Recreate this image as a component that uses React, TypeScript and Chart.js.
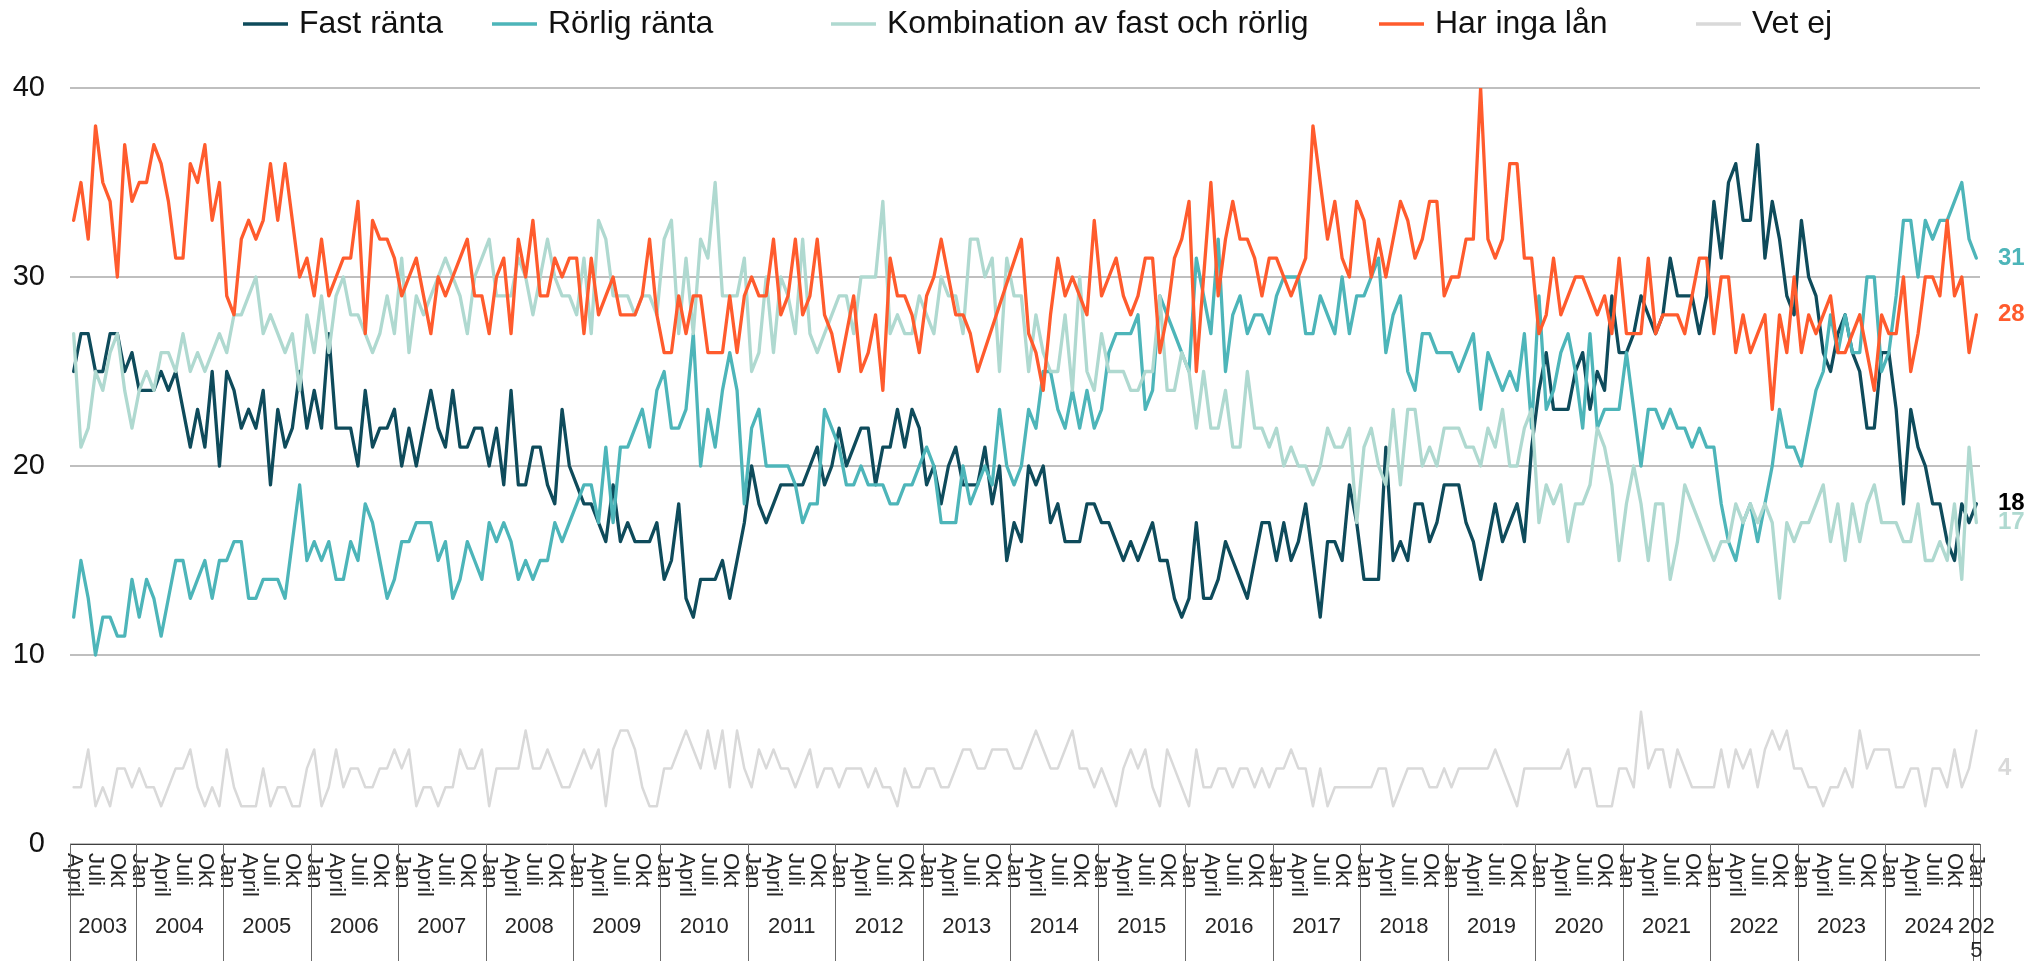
import React, { useEffect, useRef } from 'react';
import { Chart, registerables } from 'chart.js';

Chart.register(...registerables);

const FONT = '"Liberation Sans", Arial, Helvetica, sans-serif';

// ---------- categories (monthly, April 2003 – Jan 2025) ----------
const MONTH_NAMES = ['Jan', 'Feb', 'Mars', 'April', 'Maj', 'Juni', 'Juli', 'Aug', 'Sep', 'Okt', 'Nov', 'Dec'];
const TICK_MONTHS = ['Jan', 'April', 'Juli', 'Okt'];
const YEARS = [2003, 2004, 2005, 2006, 2007, 2008, 2009, 2010, 2011, 2012, 2013, 2014, 2015, 2016, 2017, 2018, 2019, 2020, 2021, 2022, 2023, 2024, 2025];
const FIRST_MONTH_INDEX = 3; // April 2003
const LAST_MONTH_INDEX = 0; // Jan 2025

const categoryMonths: string[] = [];
const categoryYears: number[] = [];
YEARS.forEach((y, yi) => {
  const from = yi === 0 ? FIRST_MONTH_INDEX : 0;
  const to = yi === YEARS.length - 1 ? LAST_MONTH_INDEX : 11;
  for (let m = from; m <= to; m++) {
    categoryMonths.push(MONTH_NAMES[m]);
    categoryYears.push(y);
  }
});
const categories = categoryMonths.map((m, i) => `${m} ${categoryYears[i]}`);

// ---------- series ----------
const SERIES_NAMES = ['Fast ränta', 'Rörlig ränta', 'Kombination av fast och rörlig', 'Har inga lån', 'Vet ej'];

const fastRanta = [
  25, 27, 27, 25, 25, 27, 27, 25, 26, 24, 24, 24, 25, 24, 25, 23, 21, 23, 21, 25, 20, 25, 24, 22, 23, 22, 24, 19, 23, 21, 22, 25,
  22, 24, 22, 27, 22, 22, 22, 20, 24, 21, 22, 22, 23, 20, 22, 20, 22, 24, 22, 21, 24, 21, 21, 22, 22, 20, 22, 19, 24, 19, 19, 21, 21,
  19, 18, 23, 20, 19, 18, 18, 17, 16, 19, 16, 17, 16, 16, 16, 17, 14, 15, 18, 13, 12, 14, 14, 14, 15, 13, 15, 17, 20, 18, 17, 18,
  19, 19, 19, 19, 20, 21, 19, 20, 22, 20, 21, 22, 22, 19, 21, 21, 23, 21, 23, 22, 19, 20, 18, 20, 21, 19, 19, 19, 21, 18, 20, 15,
  17, 16, 20, 19, 20, 17, 18, 16, 16, 16, 18, 18, 17, 17, 16, 15, 16, 15, 16, 17, 15, 15, 13, 12, 13, 17, 13, 13, 14, 16, 15, 14,
  13, 15, 17, 17, 15, 17, 15, 16, 18, 15, 12, 16, 16, 15, 19, 17, 14, 14, 14, 21, 15, 16, 15, 18, 18, 16, 17, 19, 19, 19, 17, 16, 14,
  16, 18, 16, 17, 18, 16, 21, 24, 26, 23, 23, 23, 25, 26, 23, 25, 24, 29, 26, 26, 27, 29, 28, 27, 28, 31, 29, 29, 29, 27, 29, 34,
  31, 35, 36, 33, 33, 37, 31, 34, 32, 29, 28, 33, 30, 29, 26, 25, 27, 28, 26, 25, 22, 22, 26, 26, 23, 18, 23, 21, 20, 18, 18, 16, 15, 18, 17, 18,
];

const rorligRanta = [
  12, 15, 13, 10, 12, 12, 11, 11, 14, 12, 14, 13, 11, 13, 15, 15, 13, 14, 15, 13, 15, 15, 16, 16, 13, 13, 14, 14, 14, 13, 16, 19,
  15, 16, 15, 16, 14, 14, 16, 15, 18, 17, 15, 13, 14, 16, 16, 17, 17, 17, 15, 16, 13, 14, 16, 15, 14, 17, 16, 17, 16, 14, 15, 14, 15,
  15, 17, 16, 17, 18, 19, 19, 17, 21, 17, 21, 21, 22, 23, 21, 24, 25, 22, 22, 23, 27, 20, 23, 21, 24, 26, 24, 18, 22, 23, 20, 20,
  20, 20, 19, 17, 18, 18, 23, 22, 21, 19, 19, 20, 19, 19, 19, 18, 18, 19, 19, 20, 21, 20, 17, 17, 17, 20, 18, 19, 20, 19, 23, 20,
  19, 20, 23, 22, 25, 25, 23, 22, 24, 22, 24, 22, 23, 26, 27, 27, 27, 28, 23, 24, 29, 28, 27, 26, 25, 31, 29, 27, 32, 25, 28, 29,
  27, 28, 28, 27, 29, 30, 30, 30, 27, 27, 29, 28, 27, 30, 27, 29, 29, 30, 31, 26, 28, 29, 25, 24, 27, 27, 26, 26, 26, 25, 26, 27, 23,
  26, 25, 24, 25, 24, 27, 22, 29, 23, 24, 26, 27, 25, 22, 27, 22, 23, 23, 23, 26, 23, 20, 23, 23, 22, 23, 22, 22, 21, 22, 21, 21,
  18, 16, 15, 17, 18, 16, 18, 20, 23, 21, 21, 20, 22, 24, 25, 28, 26, 28, 26, 26, 30, 30, 25, 26, 29, 33, 33, 30, 33, 32, 33, 33, 34, 35, 32, 31,
];

const kombination = [
  27, 21, 22, 25, 24, 26, 27, 24, 22, 24, 25, 24, 26, 26, 25, 27, 25, 26, 25, 26, 27, 26, 28, 28, 29, 30, 27, 28, 27, 26, 27, 24,
  28, 26, 29, 26, 29, 30, 28, 28, 27, 26, 27, 29, 27, 31, 26, 29, 28, 29, 30, 31, 30, 29, 27, 30, 31, 32, 29, 29, 29, 31, 30, 28, 30,
  32, 30, 29, 29, 28, 31, 27, 33, 32, 29, 29, 29, 28, 29, 29, 28, 32, 33, 27, 31, 27, 32, 31, 35, 29, 29, 29, 31, 25, 26, 30, 26,
  30, 29, 27, 32, 27, 26, 27, 28, 29, 29, 27, 30, 30, 30, 34, 27, 28, 27, 27, 29, 28, 27, 30, 29, 29, 27, 32, 32, 30, 31, 25, 31,
  29, 29, 25, 28, 26, 25, 25, 28, 24, 30, 25, 24, 27, 25, 25, 25, 24, 24, 25, 25, 29, 24, 24, 26, 25, 22, 25, 22, 22, 24, 21, 21,
  25, 22, 22, 21, 22, 20, 21, 20, 20, 19, 20, 22, 21, 21, 22, 17, 21, 22, 20, 19, 23, 19, 23, 23, 20, 21, 20, 22, 22, 22, 21, 21, 20,
  22, 21, 23, 20, 20, 22, 23, 17, 19, 18, 19, 16, 18, 18, 19, 22, 21, 19, 15, 18, 20, 18, 15, 18, 18, 14, 16, 19, 18, 17, 16, 15,
  16, 16, 18, 17, 18, 17, 18, 17, 13, 17, 16, 17, 17, 18, 19, 16, 18, 15, 18, 16, 18, 19, 17, 17, 17, 16, 16, 18, 15, 15, 16, 15, 18, 14, 21, 17,
];

const harIngaLan: (number | null)[] = [
  33, 35, 32, 38, 35, 34, 30, 37, 34, 35, 35, 37, 36, 34, 31, 31, 36, 35, 37, 33, 35, 29, 28, 32, 33, 32, 33, 36, 33, 36, 33, 30,
  31, 29, 32, 29, 30, 31, 31, 34, 27, 33, 32, 32, 31, 29, 30, 31, 29, 27, 30, 29, 30, 31, 32, 29, 29, 27, 30, 31, 27, 32, 30, 33, 29,
  29, 31, 30, 31, 31, 27, 31, 28, 29, 30, 28, 28, 28, 29, 32, 28, 26, 26, 29, 27, 29, 29, 26, 26, 26, 29, 26, 29, 30, 29, 29, 32,
  28, 29, 32, 28, 29, 32, 28, 27, 25, 27, 29, 25, 26, 28, 24, 31, 29, 29, 28, 26, 29, 30, 32, 30, 28, 28, 27, 25, null, null, null, null,
  null, 32, 27, 26, 24, 28, 31, 29, 30, 29, 28, 33, 29, 30, 31, 29, 28, 29, 31, 31, 26, 28, 31, 32, 34, 25, 30, 35, 29, 32, 34, 32,
  32, 31, 29, 31, 31, 30, 29, 30, 31, 38, 35, 32, 34, 31, 30, 34, 33, 30, 32, 30, 32, 34, 33, 31, 32, 34, 34, 29, 30, 30, 32, 32, 40,
  32, 31, 32, 36, 36, 31, 31, 27, 28, 31, 28, 29, 30, 30, 29, 28, 29, 27, 31, 27, 27, 27, 31, 27, 28, 28, 28, 27, 29, 31, 31, 27,
  30, 30, 26, 28, 26, 27, 28, 23, 28, 26, 30, 26, 28, 27, 28, 29, 26, 26, 27, 28, 26, 24, 28, 27, 27, 30, 25, 27, 30, 30, 29, 33, 29, 30, 26, 28,
];

const vetEj = [
  3, 3, 5, 2, 3, 2, 4, 4, 3, 4, 3, 3, 2, 3, 4, 4, 5, 3, 2, 3, 2, 5, 3, 2, 2, 2, 4, 2, 3, 3, 2, 2,
  4, 5, 2, 3, 5, 3, 4, 4, 3, 3, 4, 4, 5, 4, 5, 2, 3, 3, 2, 3, 3, 5, 4, 4, 5, 2, 4, 4, 4, 4, 6, 4,
  4, 5, 4, 3, 3, 4, 5, 4, 5, 2, 5, 6, 6, 5, 3, 2, 2, 4, 4, 5, 6, 5, 4, 6, 4, 6, 3, 6, 4, 3, 5, 4,
  5, 4, 4, 3, 4, 5, 3, 4, 4, 3, 4, 4, 4, 3, 4, 3, 3, 2, 4, 3, 3, 4, 4, 3, 3, 4, 5, 5, 4, 4, 5, 5,
  5, 4, 4, 5, 6, 5, 4, 4, 5, 6, 4, 4, 3, 4, 3, 2, 4, 5, 4, 5, 3, 2, 5, 4, 3, 2, 5, 3, 3, 4, 4, 3,
  4, 4, 3, 4, 3, 4, 4, 5, 4, 4, 2, 4, 2, 3, 3, 3, 3, 3, 3, 4, 4, 2, 3, 4, 4, 4, 3, 3, 4, 3, 4, 4,
  4, 4, 4, 5, 4, 3, 2, 4, 4, 4, 4, 4, 4, 5, 3, 4, 4, 2, 2, 2, 4, 4, 3, 7, 4, 5, 5, 3, 5, 4, 3, 3,
  3, 3, 5, 3, 5, 4, 5, 3, 5, 6, 5, 6, 4, 4, 3, 3, 2, 3, 3, 4, 3, 6, 4, 5, 5, 5, 3, 3, 4, 4, 2, 4, 4, 3, 5, 3, 4, 6,
];

const SERIES_DATA = [fastRanta, rorligRanta, kombination, harIngaLan, vetEj];
const SERIES_COLORS = ['#0E4B5B', '#4DB5B9', '#AFD9D0', '#FF5B2D', '#D9D9D9'];
const SERIES_WIDTHS = [3.3, 3.3, 3.3, 3.3, 2.5];

// end-of-line labels
const END_LABEL_TEXTS = ['18', '31', '17', '28', '4'];
const END_LABEL_VALUES = [18, 31, 17, 28, 4];
const END_LABEL_COLORS = ['#000000', '#4DB5B9', '#AFD9D0', '#FF5B2D', '#D9D9D9'];

// y ticks
const Y_MIN = 0;
const Y_MAX = 40;
const Y_STEP = 10;

// legend layout (left x of each entry's line sample)
const LEGEND_ITEM_X = [243, 492, 831, 1379, 1696];
const LEGEND_Y = 24;
const LEGEND_LINE = 45;
const LEGEND_GAP = 11;

const CHART_LEFT = 70;
const CHART_RIGHT_PAD = 50;
const CHART_TOP = 88;
const X_AXIS_HEIGHT = 117;

const legendPlugin = {
  id: 'customLegend',
  afterDraw(chart: any) {
    const { ctx } = chart;
    ctx.save();
    ctx.font = `32px ${FONT}`;
    ctx.textBaseline = 'middle';
    ctx.textAlign = 'left';
    chart.data.datasets.forEach((ds: any, i: number) => {
      const x = LEGEND_ITEM_X[i];
      ctx.strokeStyle = ds.borderColor;
      ctx.lineWidth = 3.3;
      ctx.beginPath();
      ctx.moveTo(x, LEGEND_Y);
      ctx.lineTo(x + LEGEND_LINE, LEGEND_Y);
      ctx.stroke();
      ctx.fillStyle = '#111111';
      ctx.fillText(ds.label, x + LEGEND_LINE + LEGEND_GAP, LEGEND_Y);
    });
    ctx.restore();
  },
};

const axisPlugin = {
  id: 'monthYearAxis',
  afterDraw(chart: any) {
    const { ctx, chartArea, scales } = chart;
    const xs = scales.x;
    const n = categories.length;
    const band = (chartArea.right - chartArea.left) / n;
    const bottom = chart.height;
    ctx.save();

    // axis line
    ctx.strokeStyle = '#404040';
    ctx.lineWidth = 1;
    ctx.beginPath();
    ctx.moveTo(chartArea.left, Math.round(chartArea.bottom) + 0.5);
    ctx.lineTo(chartArea.right, Math.round(chartArea.bottom) + 0.5);
    ctx.stroke();

    // month labels, rotated 90° clockwise
    ctx.font = `22px ${FONT}`;
    ctx.fillStyle = '#262626';
    ctx.textAlign = 'left';
    ctx.textBaseline = 'middle';
    categoryMonths.forEach((m, i) => {
      if (!TICK_MONTHS.includes(m)) return;
      const px = xs.getPixelForValue(i);
      ctx.save();
      ctx.translate(px, chartArea.bottom + 9);
      ctx.rotate(Math.PI / 2);
      ctx.fillText(m, 0, 0);
      ctx.restore();
    });

    // year groups
    ctx.font = `22px ${FONT}`;
    ctx.textAlign = 'center';
    ctx.strokeStyle = '#6b6b6b';
    YEARS.forEach((y) => {
      const first = categoryYears.indexOf(y);
      const last = categoryYears.lastIndexOf(y);
      const left = xs.getPixelForValue(first) - band / 2;
      const right = xs.getPixelForValue(last) + band / 2;
      ctx.beginPath();
      const lx = Math.round(left) + 0.5;
      ctx.moveTo(lx, chartArea.bottom);
      ctx.lineTo(lx, bottom);
      ctx.stroke();
      if (y === YEARS[YEARS.length - 1]) {
        const rx = Math.round(right) + 0.5;
        ctx.beginPath();
        ctx.moveTo(rx, chartArea.bottom);
        ctx.lineTo(rx, bottom);
        ctx.stroke();
      }
      const label = String(y);
      const cx = (left + right) / 2;
      const w = ctx.measureText(label).width;
      if (w > right - left + 20) {
        ctx.fillText(label.slice(0, 3), cx, 927);
        ctx.fillText(label.slice(3), cx, 951);
      } else {
        ctx.fillText(label, cx, 927);
      }
    });
    ctx.restore();
  },
};

const endLabelPlugin = {
  id: 'endLabels',
  afterDraw(chart: any) {
    const { ctx, chartArea, scales } = chart;
    ctx.save();
    ctx.font = `bold 24px ${FONT}`;
    ctx.textAlign = 'left';
    ctx.textBaseline = 'middle';
    END_LABEL_TEXTS.forEach((t, i) => {
      ctx.fillStyle = END_LABEL_COLORS[i];
      ctx.fillText(t, chartArea.right + 18, scales.y.getPixelForValue(END_LABEL_VALUES[i]));
    });
    ctx.restore();
  },
};

export default function App() {
  const ref = useRef<HTMLCanvasElement>(null);

  useEffect(() => {
    if (!ref.current) return;
    const chart = new Chart(ref.current, {
      type: 'line',
      data: {
        labels: categories,
        datasets: SERIES_NAMES.map((name, i) => ({
          label: name,
          data: SERIES_DATA[i] as any,
          borderColor: SERIES_COLORS[i],
          backgroundColor: SERIES_COLORS[i],
          borderWidth: SERIES_WIDTHS[i],
          pointRadius: 0,
          pointHoverRadius: 0,
          tension: 0,
          spanGaps: true,
          fill: false,
          order: SERIES_NAMES.length - i,
          borderJoinStyle: 'round' as const,
          borderCapStyle: 'round' as const,
        })),
      },
      options: {
        responsive: false,
        animation: false,
        devicePixelRatio: 1,
        layout: { padding: { top: CHART_TOP, right: CHART_RIGHT_PAD, left: 0, bottom: 0 } },
        plugins: {
          legend: { display: false },
          tooltip: { enabled: false },
        },
        scales: {
          x: {
            type: 'category',
            offset: true,
            grid: { display: false, drawTicks: false },
            border: { display: false },
            ticks: { display: false },
            afterFit: (s: any) => {
              s.height = X_AXIS_HEIGHT;
            },
          },
          y: {
            min: Y_MIN,
            max: Y_MAX,
            ticks: {
              stepSize: Y_STEP,
              padding: 25,
              color: '#111111',
              font: { family: FONT, size: 29 },
            },
            grid: { color: '#BFBFBF', lineWidth: 2, drawTicks: false },
            border: { display: false },
            afterFit: (s: any) => {
              s.width = CHART_LEFT;
            },
          },
        },
      },
      plugins: [legendPlugin, axisPlugin, endLabelPlugin],
    });
    return () => chart.destroy();
  }, []);

  return (
    <div style={{ position: 'absolute', left: 0, top: 0, width: 2030, height: 961, background: '#ffffff' }}>
      <canvas ref={ref} width={2030} height={961} style={{ display: 'block', width: 2030, height: 961 }} />
    </div>
  );
}
